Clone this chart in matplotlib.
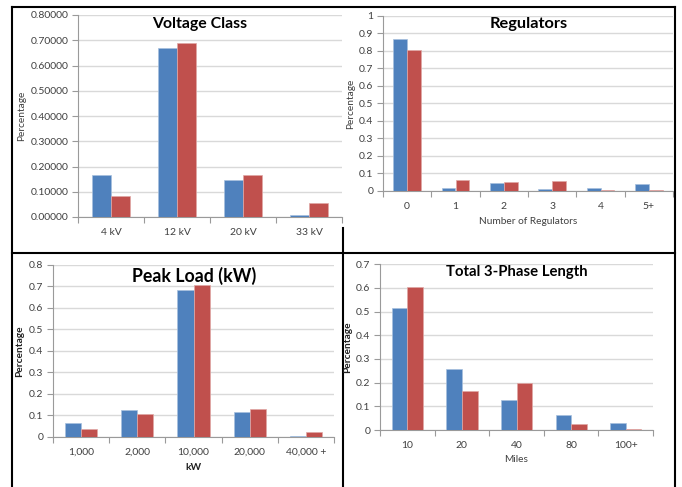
import matplotlib
matplotlib.use("Agg")
import matplotlib.pyplot as plt
from matplotlib.lines import Line2D
from matplotlib.ticker import FixedLocator, FuncFormatter

# ---- data ----
voltage_cats = ["4 kV", "12 kV", "20 kV", "33 kV"]
voltage_blue = [0.167, 0.670, 0.146, 0.009]
voltage_red = [0.084, 0.690, 0.166, 0.057]
voltage_yticks = [0.0, 0.1, 0.2, 0.3, 0.4, 0.5, 0.6, 0.7, 0.8]

reg_cats = ["0", "1", "2", "3", "4", "5+"]
reg_blue = [0.867, 0.015, 0.043, 0.009, 0.019, 0.038]
reg_red = [0.804, 0.064, 0.049, 0.058, 0.007, 0.007]
reg_yticks = [0, 0.1, 0.2, 0.3, 0.4, 0.5, 0.6, 0.7, 0.8, 0.9, 1]

load_cats = ["1,000", "2,000", "10,000", "20,000", "40,000 +"]
load_blue = [0.066, 0.125, 0.683, 0.117, 0.003]
load_red = [0.034, 0.108, 0.705, 0.129, 0.023]
load_yticks = [0, 0.1, 0.2, 0.3, 0.4, 0.5, 0.6, 0.7, 0.8]

length_cats = ["10", "20", "40", "80", "100+"]
length_blue = [0.514, 0.257, 0.126, 0.065, 0.031]
length_red = [0.603, 0.163, 0.199, 0.027, 0.006]
length_yticks = [0, 0.1, 0.2, 0.3, 0.4, 0.5, 0.6, 0.7]

BLUE = "#4F81BD"
RED = "#C0504D"
GRID = "#D9D9D9"
AXIS = "#9A9A9A"
TEXT = "#404040"

W, H = 682, 487
plt.rcParams["font.family"] = ["Lato", "DejaVu Sans"]

fig = plt.figure(figsize=(W / 100, H / 100), dpi=100)
fig.patch.set_facecolor("white")


def rect(x0, y0, x1, y1):
    return [x0 / W, 1 - y1 / H, (x1 - x0) / W, (y1 - y0) / H]


def fx(x):
    return x / W


def fy(y):
    return 1 - y / H


def make_panel(box, cats, blue, red, yticks, fmt, title, title_xy, title_size,
               ylabel, ylabel_bold, ylabel_x, xlabel=None, xlabel_bold=False,
               xlabel_y=None):
    ax = fig.add_axes(rect(*box))
    n = len(cats)
    w = 1 / 3.5
    pos = list(range(n))
    ax.bar([p - w / 2 for p in pos], blue, width=w, color=BLUE,
           edgecolor="#A7C0DE", linewidth=0.5, zorder=3)
    ax.bar([p + w / 2 for p in pos], red, width=w, color=RED,
           edgecolor="#E0A8A6", linewidth=0.5, zorder=3)
    ax.set_xlim(-0.5, n - 0.5)
    ax.set_ylim(yticks[0], yticks[-1])
    ax.yaxis.set_major_locator(FixedLocator(yticks))
    ax.yaxis.set_major_formatter(FuncFormatter(fmt))
    ax.grid(axis="y", color=GRID, linewidth=1.0, zorder=0)
    ax.set_axisbelow(True)
    # category boundaries carry the tick marks, centres carry the labels
    ax.xaxis.set_major_locator(FixedLocator([i - 0.5 for i in range(n + 1)]))
    ax.xaxis.set_major_formatter(FuncFormatter(lambda v, p: ""))
    ax.xaxis.set_minor_locator(FixedLocator(pos))
    ax.set_xticklabels(cats, minor=True)
    ax.tick_params(axis="x", which="major", length=4, color=AXIS, direction="out")
    ax.tick_params(axis="x", which="minor", length=0, pad=8, labelsize=7.5,
                   labelcolor=TEXT)
    ax.tick_params(axis="y", length=4, color=AXIS, direction="out", pad=3,
                   labelsize=7.5, labelcolor=TEXT)
    for s in ("top", "right"):
        ax.spines[s].set_visible(False)
    for s in ("left", "bottom"):
        ax.spines[s].set_color(AXIS)
        ax.spines[s].set_linewidth(0.8)
    fig.text(fx(title_xy[0]), fy(title_xy[1]), title, ha="center", va="center",
             fontsize=title_size, fontweight="bold", color="black")
    mid_y = (box[1] + box[3]) / 2
    fig.text(fx(ylabel_x), fy(mid_y), ylabel, rotation=90, ha="center",
             va="center", fontsize=7.3, color=TEXT if not ylabel_bold else "#202020",
             fontweight="bold" if ylabel_bold else "normal")
    if xlabel:
        fig.text(fx((box[0] + box[2]) / 2), fy(xlabel_y), xlabel, ha="center",
                 va="center", fontsize=7.3, color=TEXT if not xlabel_bold else "#202020",
                 fontweight="bold" if xlabel_bold else "normal")
    return ax


make_panel((78, 15, 342, 217), voltage_cats, voltage_blue, voltage_red,
           voltage_yticks, lambda v, p: f"{v:.5f}", "Voltage Class", (200, 24),
           11.4, "Percentage", False, 22)

make_panel((383, 15.7, 673, 191), reg_cats, reg_blue, reg_red, reg_yticks,
           lambda v, p: f"{v:g}", "Regulators", (529, 24), 11.8,
           "Percentage", False, 351, "Number of Regulators", False, 222)

make_panel((53, 265, 334, 436.7), load_cats, load_blue, load_red, load_yticks,
           lambda v, p: f"{v:g}", "Peak Load (kW)", (194, 276), 12.8,
           "Percentage", True, 20, "kW", True, 468)

make_panel((380, 264.3, 653, 430), length_cats, length_blue, length_red,
           length_yticks, lambda v, p: f"{v:g}", "Total 3-Phase Length",
           (517, 272), 10.7, "Percentage", True, 348, "Miles", False, 460)

# table frame around the four charts
frame = [((12, 7), (675, 7)), ((12, 253), (675, 253)), ((12, 7), (12, 487)),
         ((675, 7), (675, 487)), ((343, 228), (343, 487))]
for (x0, y0), (x1, y1) in frame:
    fig.add_artist(Line2D([fx(x0), fx(x1)], [fy(y0), fy(y1)], color="black",
                          linewidth=1.5, transform=fig.transFigure))

fig.savefig("out.png", dpi=100, facecolor="white")
